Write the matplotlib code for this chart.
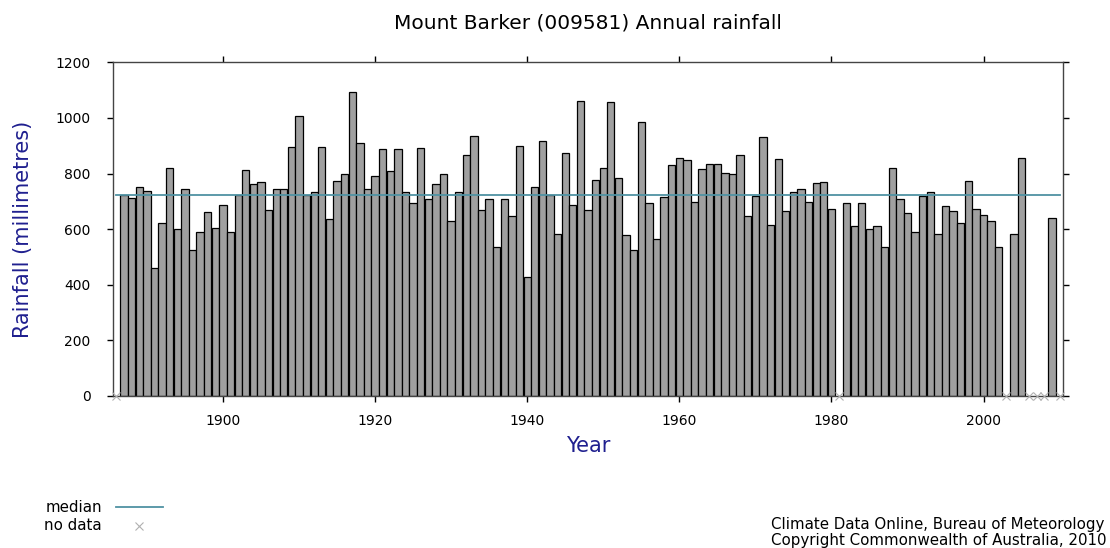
import numpy as np
import matplotlib.pyplot as plt

# annual rainfall (mm), Mount Barker 009581; None = no data
years = list(range(1887, 2010))
rainfall = [
    723, 711, 751, 736, 462, 621, 820, 600, 746, 524,   # 1887-1896
    588, 662, 603, 687, 588, 724, 812, 761, 770, 670,   # 1897-1906
    746, 746, 894, 1006, 724, 733, 894, 637, 773, 800,  # 1907-1916
    1095, 911, 746, 791, 887, 808, 887, 733, 695, 891,  # 1917-1926
    707, 761, 800, 628, 733, 866, 936, 670, 707, 537,   # 1927-1936
    707, 646, 898, 429, 751, 916, 724, 584, 873, 687,   # 1937-1946
    1061, 670, 778, 820, 1056, 783, 578, 524, 987, 695, # 1947-1956
    566, 716, 832, 857, 849, 699, 815, 836, 836, 803,   # 1957-1966
    799, 865, 646, 721, 932, 616, 854, 667, 733, 746,   # 1967-1976
    699, 766, 770, 674, None, 695, 613, 695, 600, 613,  # 1977-1986
    534, 820, 707, 658, 588, 721, 733, 584, 682, 667,   # 1987-1996
    621, 773, 674, 650, 628, 537, None, 584, 857, None, # 1997-2006
    None, None, 640,                                    # 2007-2009
]
no_data_years = [1886, 1981, 2003, 2006, 2007, 2008, 2010]

vals = np.array([np.nan if v is None else v for v in rainfall], dtype=float)
median = np.nanmedian(vals)

fig = plt.figure(figsize=(11.1, 5.48), dpi=100)
ax = fig.add_axes([0.1015, 0.2774, 0.8565, 0.6089])

ax.bar(years, vals, width=0.96, color='#a0a0a0', edgecolor='black', linewidth=0.9, zorder=2)
ax.plot([1886, 2010], [median, median], color='#4f92a3', linewidth=1.3, zorder=3)
ax.plot(no_data_years, [0] * len(no_data_years), 'x', color='#b0b0b0',
        markersize=5.5, markeredgewidth=0.8, clip_on=False, zorder=4)

ax.set_xlim(1885.5, 2010.5)
ax.set_ylim(0, 1200)
ax.set_xticks(range(1900, 2001, 20))
ax.set_yticks(range(0, 1201, 200))
ax.tick_params(direction='out', length=4, width=1, labelsize=10,
               top=True, right=True)
ax.tick_params(axis='y', pad=12)
ax.tick_params(axis='x', pad=9)
for s in ax.spines.values():
    s.set_color('#444444')
    s.set_linewidth(1)

ax.set_title('Mount Barker (009581) Annual rainfall', fontsize=14.5, pad=24)
ax.set_ylabel('Rainfall (millimetres)', fontsize=15, color='#1f1f8f', labelpad=16)
ax.set_xlabel('Year', fontsize=15, color='#1f1f8f', labelpad=6)

# legend at the bottom left
fig.text(0.092, 1 - 507 / 548, 'median', ha='right', va='center', fontsize=10.8)
fig.add_artist(plt.Line2D([116 / 1110, 163 / 1110], [1 - 507 / 548] * 2,
                          color='#4f92a3', linewidth=1.3))
fig.text(0.092, 1 - 526 / 548, 'no data', ha='right', va='center', fontsize=10.8)
fig.add_artist(plt.Line2D([139 / 1110], [1 - 526 / 548], marker='x', color='#b0b0b0',
                          markersize=5.5, markeredgewidth=0.8, linestyle='none'))

fig.text(0.6946, 1 - 524 / 548, 'Climate Data Online, Bureau of Meteorology',
         ha='left', va='center', fontsize=10.8)
fig.text(0.6946, 1 - 540 / 548, 'Copyright Commonwealth of Australia, 2010',
         ha='left', va='center', fontsize=10.8)

fig.savefig('out.png', dpi=100)
